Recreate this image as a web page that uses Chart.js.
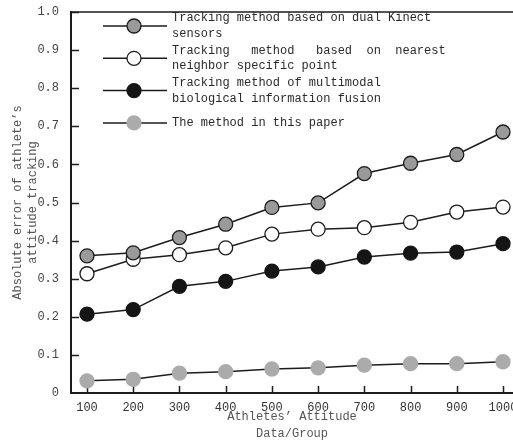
<!DOCTYPE html>
<html>
<head>
<meta charset="utf-8">
<script src="https://cdn.jsdelivr.net/npm/chart.js@4/dist/chart.umd.min.js"></script>
<style>
  html, body { margin: 0; padding: 0; overflow: hidden; background: #fff; }
  #wrap { width: 530px; height: 441px; }
</style>
</head>
<body>
<div id="wrap"><canvas id="c" width="530" height="441"></canvas></div>
<script>
// Athlete attitude data groups (x axis)
const groups = [100, 200, 300, 400, 500, 600, 700, 800, 900, 1000];

// Absolute attitude-tracking error per method
const dualKinect       = [0.360, 0.368, 0.408, 0.443, 0.487, 0.499, 0.576, 0.603, 0.626, 0.685];
const nearestNeighbor  = [0.313, 0.351, 0.363, 0.381, 0.417, 0.430, 0.434, 0.448, 0.475, 0.488];
const multimodalFusion = [0.207, 0.219, 0.280, 0.293, 0.320, 0.331, 0.357, 0.367, 0.370, 0.392];
const thisMethod       = [0.032, 0.036, 0.052, 0.056, 0.063, 0.066, 0.073, 0.077, 0.077, 0.082];

// Y axis tick values
const yTicks = [0, 0.1, 0.2, 0.3, 0.4, 0.5, 0.6, 0.7, 0.8, 0.9, 1.0];

// Legend entries, one array of text lines per series
const legendLines = [
  ['Tracking method based on dual Kinect', 'sensors'],
  ['Tracking   method   based  on  nearest', 'neighbor specific point'],
  ['Tracking method of multimodal', 'biological information fusion'],
  ['The method in this paper']
];

const FONT = '"Liberation Mono", "DejaVu Sans Mono", monospace';
const INK = '#1c1c1c';

function series(values) {
  return values.map((v, i) => ({ x: groups[i], y: v }));
}

function makeDataset(idx, values, fill, border) {
  return {
    label: legendLines[idx].join(' '),
    data: series(values),
    borderColor: INK,
    borderWidth: 1.5,
    pointRadius: 7,
    pointHoverRadius: 7,
    pointBorderWidth: 1.3,
    pointBackgroundColor: fill,
    pointBorderColor: border,
    tension: 0,
    fill: false,
    clip: false
  };
}

// Inward tick marks, top frame line and the in-plot legend
const frameAndLegend = {
  id: 'frameAndLegend',
  beforeDatasetsDraw(chart) {
    const { ctx, chartArea, scales } = chart;
    ctx.save();
    ctx.strokeStyle = INK;
    ctx.lineWidth = 1.5;
    // top frame line
    ctx.beginPath();
    ctx.moveTo(chartArea.left, chartArea.top);
    ctx.lineTo(chart.width, chartArea.top);
    ctx.stroke();
    // y ticks pointing into the plot
    scales.y.ticks.forEach(t => {
      if (t.value === 0) return;
      const py = Math.round(scales.y.getPixelForValue(t.value)) + 0.5;
      ctx.beginPath();
      ctx.moveTo(chartArea.left, py);
      ctx.lineTo(chartArea.left + 8, py);
      ctx.stroke();
    });
    // x ticks pointing into the plot
    scales.x.ticks.forEach(t => {
      const px = Math.round(scales.x.getPixelForValue(t.value)) + 0.5;
      ctx.beginPath();
      ctx.moveTo(px, chartArea.bottom);
      ctx.lineTo(px, chartArea.bottom - 7);
      ctx.stroke();
    });
    ctx.restore();
  },
  afterDraw(chart) {
    const { ctx, chartArea } = chart;
    const lineX0 = chartArea.left + 32;
    const lineX1 = chartArea.left + 96;
    const markX = chartArea.left + 63;
    const textX = chartArea.left + 101;
    const lh = 15.5;
    ctx.save();
    chart.data.datasets.forEach((ds, i) => {
      const my = chartArea.top + 14 + i * 32.3;
      ctx.strokeStyle = ds.borderColor;
      ctx.lineWidth = 1.5;
      ctx.beginPath();
      ctx.moveTo(lineX0, my);
      ctx.lineTo(lineX1, my);
      ctx.stroke();
      ctx.beginPath();
      ctx.arc(markX, my, ds.pointRadius, 0, Math.PI * 2);
      ctx.fillStyle = ds.pointBackgroundColor;
      ctx.fill();
      ctx.lineWidth = ds.pointBorderWidth;
      ctx.strokeStyle = ds.pointBorderColor;
      ctx.stroke();
      const lines = legendLines[i];
      ctx.fillStyle = '#2a2a2a';
      ctx.font = '12px ' + FONT;
      ctx.textBaseline = 'middle';
      ctx.textAlign = 'left';
      const y0 = my - (lines.length - 1) * lh / 2;
      lines.forEach((s, k) => ctx.fillText(s, textX, y0 + k * lh));
    });
    ctx.restore();
  }
};

new Chart(document.getElementById('c'), {
  type: 'line',
  data: {
    datasets: [
      makeDataset(0, dualKinect, '#9a9a9a', INK),
      makeDataset(1, nearestNeighbor, '#ffffff', INK),
      makeDataset(2, multimodalFusion, '#151515', '#151515'),
      makeDataset(3, thisMethod, '#ababab', '#ababab')
    ]
  },
  options: {
    responsive: false,
    devicePixelRatio: 1,
    animation: false,
    events: [],
    layout: { padding: { top: 12, right: 17, left: 0, bottom: 0 } },
    plugins: {
      legend: { display: false },
      tooltip: { enabled: false }
    },
    scales: {
      x: {
        type: 'linear',
        position: 'bottom',
        min: 65.4,
        max: 1021.6,
        afterBuildTicks(scale) { scale.ticks = groups.map(v => ({ value: v })); },
        afterFit(scale) { scale.height = 48; },
        grid: { display: false, drawTicks: false },
        border: { display: true, color: INK, width: 2 },
        ticks: {
          font: { family: FONT, size: 12 },
          color: '#333',
          padding: 8,
          maxRotation: 0,
          autoSkip: false,
          callback: v => String(v)
        },
        title: {
          display: true,
          text: ['Athletes\u2019 Attitude', 'Data/Group'],
          font: { family: FONT, size: 12, lineHeight: '17px' },
          color: '#555',
          padding: { top: 0, bottom: -1 }
        }
      },
      y: {
        min: 0,
        max: 1,
        afterBuildTicks(scale) { scale.ticks = yTicks.map(v => ({ value: v })); },
        afterFit(scale) {
          scale.width = 71;
          scale.paddingTop = 0;
          scale.paddingBottom = 0;
        },
        grid: { display: false, drawTicks: false },
        border: { display: true, color: INK, width: 2 },
        ticks: {
          font: { family: FONT, size: 12 },
          color: '#444',
          padding: 12,
          autoSkip: false,
          callback: v => (v === 0 ? '0' : v.toFixed(1))
        },
        title: {
          display: true,
          text: ['Absolute error of athlete\u2019s', 'attitude tracking'],
          font: { family: FONT, size: 12, lineHeight: '15px' },
          color: '#555',
          padding: { top: 10, bottom: 0 }
        }
      }
    }
  },
  plugins: [frameAndLegend]
});
</script>
</body>
</html>
